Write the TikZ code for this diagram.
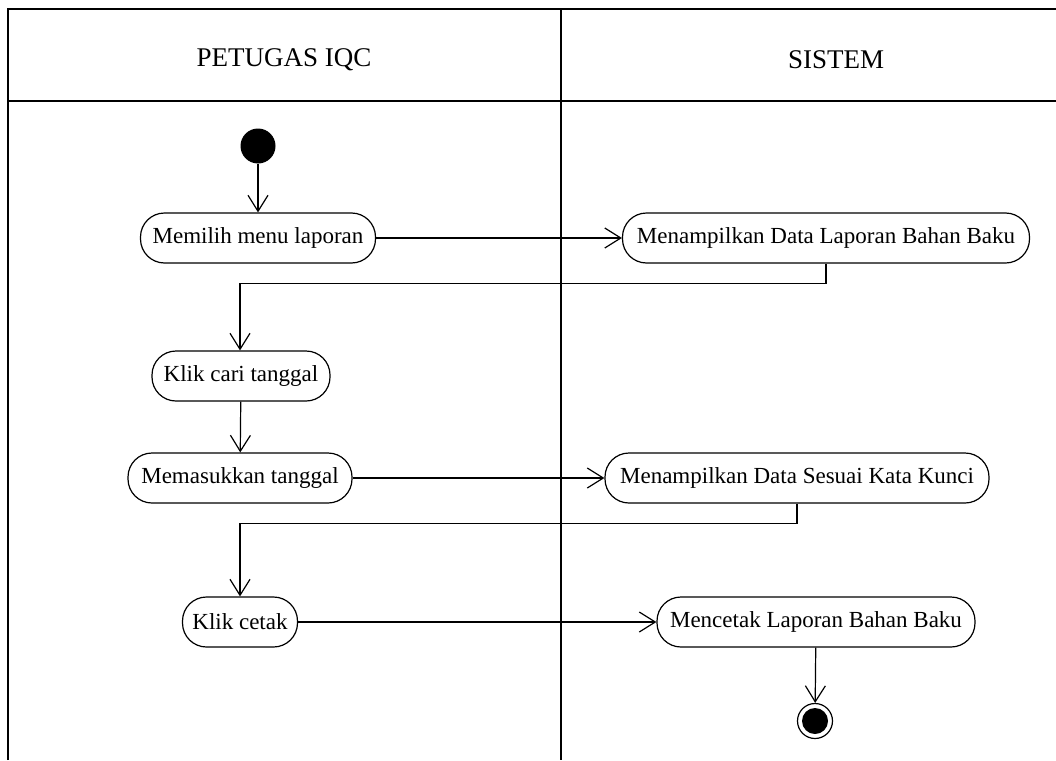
\documentclass[tikz,border=0pt]{standalone}
\usepackage{fontspec}
\setmainfont{Liberation Serif}
\usetikzlibrary{arrows.meta}
\begin{document}
\begin{tikzpicture}[x=1pt,y=-1pt,
  line width=1.2pt,
  every node/.style={font=\fontsize{23}{27}\selectfont},
  act/.style={draw, rounded corners=24pt, minimum height=50pt, inner sep=0pt, fill=white},
  arr/.style={-{Straight Barb[length=16pt,width=20pt,line width=1.2pt]}},
  lane/.style={draw=none, font=\fontsize{27}{31}\selectfont}]
\useasboundingbox (0,0) rectangle (1056,760);
% swimlane frame
\draw (8,760) -- (8,9) -- (1056,9);
\draw (8,101) -- (1056,101);
\draw (561,9) -- (561,760);
\node[lane] (l1) at (284,60) {PETUGAS IQC};
\node[lane] (l2) at (836,60) {SISTEM};
% start and end states
\node[circle, fill=black, minimum size=35pt, inner sep=0pt] (start) at (258,146) {};
\node[circle, draw, minimum size=35pt, inner sep=0pt] (end) at (815,721) {};
\fill (end.center) circle (13pt);
% activities
\node[act, minimum width=235pt] (a1) at (258,238) {Memilih menu laporan};
\node[act, minimum width=407pt] (b1) at (826,238) {Menampilkan Data Laporan Bahan Baku};
\node[act, minimum width=178pt] (a2) at (241,376) {Klik cari tanggal};
\node[act, minimum width=224pt] (a3) at (240,478) {Memasukkan tanggal};
\node[act, minimum width=384pt] (b2) at (797,478) {Menampilkan Data Sesuai Kata Kunci};
\node[act, minimum width=115pt] (a4) at (240,622) {Klik cetak};
\node[act, minimum width=318pt] (b3) at (816,622) {Mencetak Laporan Bahan Baku};
% flows
\draw[arr] (start) -- (a1);
\draw[arr] (a1) -- (b1);
\draw[arr] (b1.south) -- ++(0,20) -| ([xshift=-1pt]a2.north);
\draw[arr] (a2) -- (a3);
\draw[arr] (a3) -- (b2);
\draw[arr] (b2.south) -- ++(0,20) -| (a4.north);
\draw[arr] (a4) -- (b3);
\draw[arr] (b3) -- (end);
\end{tikzpicture}
\end{document}
